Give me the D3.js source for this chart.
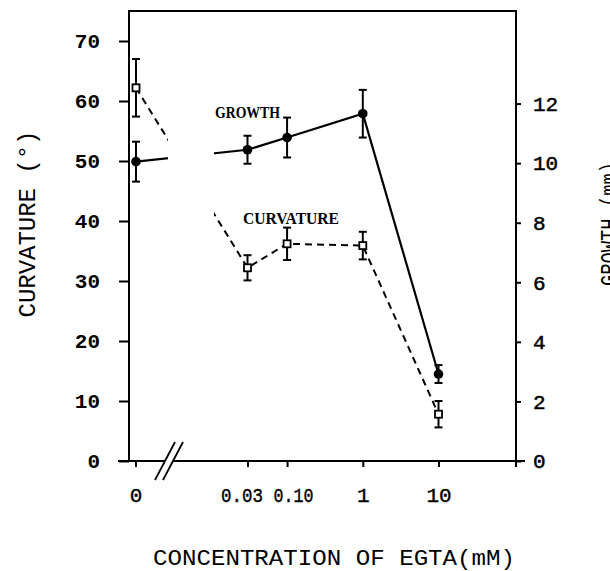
<!DOCTYPE html>
<html>
<head>
<meta charset="utf-8">
<script src="https://cdn.jsdelivr.net/npm/d3@7"></script>
<style>
  body { margin: 0; background: #fff; }
  svg { display: block; }
  .tick text { fill: #000; }
</style>
</head>
<body>
<svg id="chart" width="610" height="571"></svg>
<script>
// concentrations of EGTA (mM), 0 sits left of the axis break
const concLabels = ['0', '0.03', '0.10', '1', '10'];
const concValues = [0, 0.03, 0.1, 1, 10];

// curvature in degrees (left axis), open squares, dashed
const curvature = [62.2, 32.2, 36.2, 35.9, 7.8];
const curvatureErr = [4.8, 2.1, 2.7, 2.3, 2.2];

// growth in mm (right axis), filled circles, solid
const growth = [10.05, 10.45, 10.86, 11.66, 2.92];
const growthErr = [0.67, 0.47, 0.67, 0.8, 0.3];

const leftTicks = [0, 10, 20, 30, 40, 50, 60, 70];
const rightTicks = [0, 2, 4, 6, 8, 10, 12];

const frame = { left: 129, right: 516, top: 11, bottom: 461 };
const zeroX = 136;
const gap = [168, 214]; // break in the lines between 0 and 0.03

const svg = d3.select('#chart');

const yL = d3.scaleLinear().domain([0, 70]).range([frame.bottom, 41]);
const yR = d3.scaleLinear().domain([0, 14]).range([frame.bottom, 44]);
const xLog = d3.scaleLog().domain([0.03, 10]).range([247.5, 438.5]);
const xPos = c => c === 0 ? zeroX : xLog(c);

const mono = '"Liberation Mono", "DejaVu Sans Mono", monospace';
const serif = '"Liberation Serif", "DejaVu Serif", serif';

// frame lines
const fr = svg.append('g').attr('stroke', '#000').attr('stroke-width', 2).attr('fill', 'none');
fr.append('line').attr('x1', frame.left).attr('x2', frame.left).attr('y1', frame.top).attr('y2', frame.bottom);
fr.append('line').attr('x1', frame.right).attr('x2', frame.right).attr('y1', frame.top).attr('y2', frame.bottom + 6);
fr.append('line').attr('x1', frame.left - 1).attr('x2', frame.right + 1).attr('y1', frame.top).attr('y2', frame.top);
fr.append('line').attr('x1', 118).attr('x2', 165).attr('y1', frame.bottom).attr('y2', frame.bottom);
fr.append('line').attr('x1', 173).attr('x2', 525).attr('y1', frame.bottom).attr('y2', frame.bottom);
// axis break
fr.append('line').attr('x1', 155).attr('y1', 480).attr('x2', 175).attr('y2', 442).attr('stroke-width', 1.8);
fr.append('line').attr('x1', 163).attr('y1', 480).attr('x2', 183).attr('y2', 442).attr('stroke-width', 1.8);

// left axis
const gl = svg.append('g')
    .attr('transform', `translate(${frame.left},0)`)
    .call(d3.axisLeft(yL).tickValues(leftTicks).tickSize(10).tickPadding(19));
gl.select('.domain').remove();
gl.selectAll('line').attr('stroke-width', 2);
gl.selectAll('text').attr('font-family', mono).attr('font-weight', 'bold').attr('font-size', 21);

// right axis
const gr = svg.append('g')
    .attr('transform', `translate(${frame.right},0)`)
    .call(d3.axisRight(yR).tickValues(rightTicks).tickSize(5).tickPadding(12));
gr.select('.domain').remove();
gr.selectAll('line').attr('stroke-width', 2);
gr.selectAll('text').attr('font-family', mono).attr('font-size', 21)
    .attr('stroke', '#000').attr('stroke-width', 0.5);

// bottom axis
const gb = svg.append('g')
    .attr('transform', `translate(0,${frame.bottom})`)
    .call(d3.axisBottom(xLog).tickValues(concValues.slice(1))
        .tickFormat((d, i) => concLabels[i + 1]).tickSize(6).tickPadding(20));
gb.select('.domain').remove();
gb.selectAll('line').attr('stroke-width', 2);
gb.selectAll('text').attr('font-family', mono).attr('font-size', 21)
    .attr('stroke', '#000').attr('stroke-width', 0.4)
    .each(function (d) {
        // the two decimal labels are set tight, as in the print
        if (d === 0.03) d3.select(this).attr('dx', -6).attr('textLength', 42).attr('lengthAdjust', 'spacingAndGlyphs');
        if (d === 0.1) d3.select(this).attr('dx', 6).attr('textLength', 40).attr('lengthAdjust', 'spacingAndGlyphs');
    });

// zero tick, left of the break
const z = svg.append('g').attr('transform', `translate(${zeroX},${frame.bottom})`);
z.append('line').attr('y2', 6).attr('stroke', '#000').attr('stroke-width', 2);
z.append('text').attr('y', 41).attr('text-anchor', 'middle')
    .attr('font-family', mono).attr('font-size', 21)
    .attr('stroke', '#000').attr('stroke-width', 0.4).text(concLabels[0]);

// axis titles
svg.append('text')
    .attr('transform', 'translate(35,224) rotate(-90)')
    .attr('text-anchor', 'middle')
    .attr('font-family', mono).attr('font-size', 24)
    .attr('textLength', 187).attr('lengthAdjust', 'spacingAndGlyphs')
    .text('CURVATURE (°)');

svg.append('text')
    .attr('transform', 'translate(617,224) rotate(-90)')
    .attr('text-anchor', 'middle')
    .attr('font-family', mono).attr('font-size', 24)
    .attr('textLength', 124).attr('lengthAdjust', 'spacingAndGlyphs')
    .text('GROWTH (mm)');

svg.append('text')
    .attr('x', 153).attr('y', 565)
    .attr('font-family', mono).attr('font-size', 22)
    .attr('textLength', 362).attr('lengthAdjust', 'spacingAndGlyphs')
    .text('CONCENTRATION OF EGTA(mM)');

// clip for the broken connecting lines
const defs = svg.append('defs');
const clip = defs.append('clipPath').attr('id', 'breakClip');
clip.append('rect').attr('x', 0).attr('y', 0).attr('width', gap[0]).attr('height', 571);
clip.append('rect').attr('x', gap[1]).attr('y', 0).attr('width', 610 - gap[1]).attr('height', 571);

const curvPts = concValues.map((c, i) => ({ x: xPos(c), v: curvature[i], e: curvatureErr[i] }));
const growPts = concValues.map((c, i) => ({ x: xPos(c), v: growth[i], e: growthErr[i] }));

const lineL = d3.line().x(d => d.x).y(d => yL(d.v));
const lineR = d3.line().x(d => d.x).y(d => yR(d.v));

svg.append('path').datum(curvPts)
    .attr('clip-path', 'url(#breakClip)')
    .attr('d', lineL).attr('fill', 'none').attr('stroke', '#000')
    .attr('stroke-width', 2).attr('stroke-dasharray', '7,5');

svg.append('path').datum(growPts)
    .attr('clip-path', 'url(#breakClip)')
    .attr('d', lineR).attr('fill', 'none').attr('stroke', '#000')
    .attr('stroke-width', 2.2);

// error bars
function errorBars(pts, y) {
    const g = svg.append('g').attr('stroke', '#000').attr('stroke-width', 2);
    g.selectAll('.bar').data(pts).enter().append('line')
        .attr('x1', d => d.x).attr('x2', d => d.x)
        .attr('y1', d => y(d.v - d.e)).attr('y2', d => y(d.v + d.e));
    g.selectAll('.capT').data(pts).enter().append('line')
        .attr('x1', d => d.x - 4).attr('x2', d => d.x + 4)
        .attr('y1', d => y(d.v + d.e)).attr('y2', d => y(d.v + d.e));
    g.selectAll('.capB').data(pts).enter().append('line')
        .attr('x1', d => d.x - 4).attr('x2', d => d.x + 4)
        .attr('y1', d => y(d.v - d.e)).attr('y2', d => y(d.v - d.e));
}
errorBars(curvPts, yL);
errorBars(growPts, yR);

// markers
svg.selectAll('.sq').data(curvPts).enter().append('rect')
    .attr('x', d => d.x - 3.5).attr('y', d => yL(d.v) - 3.5)
    .attr('width', 7).attr('height', 7)
    .attr('fill', '#fff').attr('stroke', '#000').attr('stroke-width', 1.8);

svg.selectAll('.dot').data(growPts).enter().append('circle')
    .attr('cx', d => d.x).attr('cy', d => yR(d.v)).attr('r', 4.8)
    .attr('fill', '#000');

// series labels
svg.append('text').attr('x', 215).attr('y', 118)
    .attr('font-family', serif).attr('font-weight', 'bold').attr('font-size', 16)
    .attr('textLength', 65).attr('lengthAdjust', 'spacingAndGlyphs')
    .text('GROWTH');
svg.append('text').attr('x', 243).attr('y', 224)
    .attr('font-family', serif).attr('font-weight', 'bold').attr('font-size', 16)
    .attr('textLength', 96).attr('lengthAdjust', 'spacingAndGlyphs')
    .text('CURVATURE');
</script>
</body>
</html>
